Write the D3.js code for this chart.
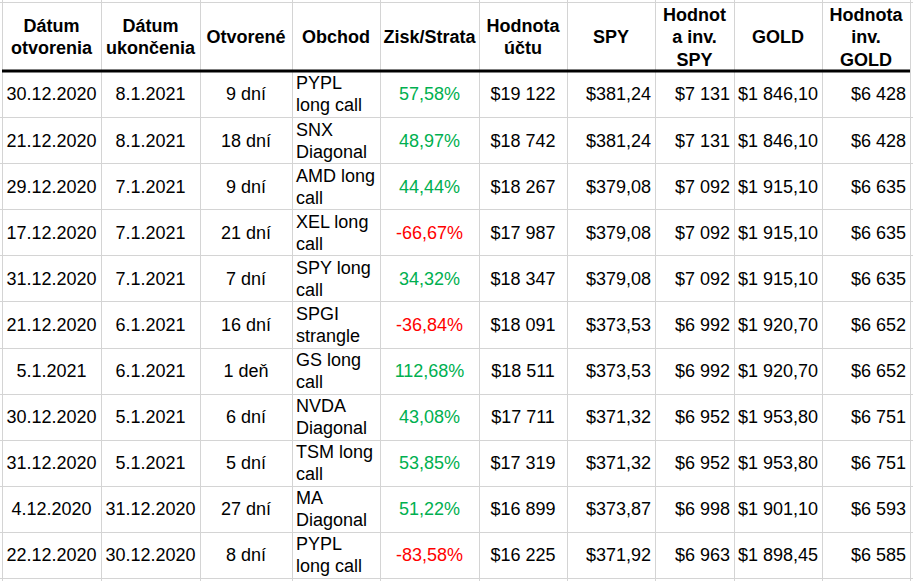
<!DOCTYPE html>
<html lang="sk">
<head>
<meta charset="UTF-8">
<title>Obchody</title>
<script src="https://d3js.org/d3.v7.min.js"></script>
<style>
  body { margin: 0; background: #fff; }
  svg { display: block; font-family: 'Liberation Sans', Arial, sans-serif; }
</style>
</head>
<body>
<div id="chart"></div>
<script>
// header labels (already split into lines as in the sheet)
const headers = [
  ["Dátum", "otvorenia"], ["Dátum", "ukončenia"], ["Otvorené"], ["Obchod"],
  ["Zisk/Strata"], ["Hodnota", "účtu"], ["SPY"], ["Hodnot", "a inv.", "SPY"],
  ["GOLD"], ["Hodnota", "inv.", "GOLD"]
];

const openDates = ["30.12.2020", "21.12.2020", "29.12.2020", "17.12.2020", "31.12.2020",
  "21.12.2020", "5.1.2021", "30.12.2020", "31.12.2020", "4.12.2020", "22.12.2020"];
const closeDates = ["8.1.2021", "8.1.2021", "7.1.2021", "7.1.2021", "7.1.2021",
  "6.1.2021", "6.1.2021", "5.1.2021", "5.1.2021", "31.12.2020", "30.12.2020"];
const days = [9, 18, 9, 21, 7, 16, 1, 6, 5, 27, 8];
const trades = ["PYPL long call", "SNX Diagonal", "AMD long call", "XEL long call",
  "SPY long call", "SPGI strangle", "GS long call", "NVDA Diagonal", "TSM long call",
  "MA Diagonal", "PYPL long call"];
const profit = [57.58, 48.97, 44.44, -66.67, 34.32, -36.84, 112.68, 43.08, 53.85, 51.22, -83.58];
const account = [19122, 18742, 18267, 17987, 18347, 18091, 18511, 17711, 17319, 16899, 16225];
const spy = [381.24, 381.24, 379.08, 379.08, 379.08, 373.53, 373.53, 371.32, 371.32, 373.87, 371.92];
const spyInv = [7131, 7131, 7092, 7092, 7092, 6992, 6992, 6952, 6952, 6998, 6963];
const gold = [1846.10, 1846.10, 1915.10, 1915.10, 1915.10, 1920.70, 1920.70, 1953.80, 1953.80, 1901.10, 1898.45];
const goldInv = [6428, 6428, 6635, 6635, 6635, 6652, 6652, 6751, 6751, 6593, 6585];

const W = 913, H = 581;
const colEdges = [2, 101, 200, 292, 380, 479, 567, 655, 734, 822, 910];
const align = ["middle", "middle", "middle", "start", "middle", "middle", "end", "end", "end", "end"];
const headTop = 2, headBottom = 71, tableBottom = 578;
const pad = 4;

const loc = d3.formatLocale({decimal: ",", thousands: " ", grouping: [3], currency: ["$", ""], minus: "-"});
const fInt = loc.format("$,.0f");
const fDec = loc.format("$,.2f");
const fPct = loc.format(".2f");

const n = openDates.length;
const rows = d3.range(n).map(i => [
  openDates[i], closeDates[i], days[i] + (days[i] === 1 ? " deň" : " dní"), trades[i],
  fPct(profit[i]) + "%", fInt(account[i]), fDec(spy[i]), fInt(spyInv[i]),
  fDec(gold[i]), fInt(goldInv[i])
]);

const y = d3.scaleBand().domain(d3.range(n)).range([headBottom, tableBottom]);

const svg = d3.select("#chart").append("svg").attr("width", W).attr("height", H);

// grid
const grid = svg.append("g").attr("stroke", "#d4d4d4").attr("stroke-width", 1).attr("shape-rendering", "crispEdges");
grid.selectAll(".v").data(colEdges).join("line")
  .attr("x1", d => d + 0.5).attr("x2", d => d + 0.5).attr("y1", 0).attr("y2", H);
grid.selectAll(".h").data([headTop].concat(d3.range(1, n + 1).map(i => i < n ? y(i) : tableBottom))).join("line")
  .attr("x1", 0).attr("x2", W).attr("y1", d => Math.round(d) + 0.5).attr("y2", d => Math.round(d) + 0.5);

svg.append("line")
  .attr("x1", colEdges[0]).attr("x2", colEdges[colEdges.length - 1])
  .attr("y1", headBottom).attr("y2", headBottom)
  .attr("stroke", "#000").attr("stroke-width", 3);

function xFor(c) {
  const a = align[c];
  if (a === "start") return colEdges[c] + pad;
  if (a === "end") return colEdges[c + 1] - pad;
  return (colEdges[c] + colEdges[c + 1]) / 2;
}

// header
const headMid = (headTop + headBottom) / 2;
const hLine = 22.5;
headers.forEach((lines, c) => {
  const t = svg.append("text")
    .attr("text-anchor", "middle")
    .attr("font-size", 18).attr("font-weight", "bold").attr("fill", "#000");
  lines.forEach((l, k) => {
    t.append("tspan")
      .attr("x", (colEdges[c] + colEdges[c + 1]) / 2)
      .attr("y", headMid + (k - (lines.length - 1) / 2) * hLine + 6.5)
      .text(l);
  });
});

// wrap words into lines fitting the column
function wrap(str, maxW, measure) {
  const words = str.split(" ");
  const out = [];
  let cur = words[0];
  for (let i = 1; i < words.length; i++) {
    const test = cur + " " + words[i];
    if (measure(test) <= maxW) cur = test;
    else { out.push(cur); cur = words[i]; }
  }
  out.push(cur);
  return out;
}

const probe = svg.append("text").attr("font-size", 18).attr("visibility", "hidden");
const measure = s => probe.text(s).node().getComputedTextLength();

const body = svg.append("g").attr("font-size", 18);
rows.forEach((r, i) => {
  const mid = y(i) + y.bandwidth() / 2;
  r.forEach((val, c) => {
    let fill = "#000";
    if (c === 4) fill = profit[i] < 0 ? "#ff0000" : "#00b050";
    const t = body.append("text").attr("text-anchor", align[c]).attr("fill", fill);
    const lines = c === 3 ? wrap(val, 82, measure) : [val];
    lines.forEach((l, k) => {
      t.append("tspan")
        .attr("x", xFor(c))
        .attr("y", mid + (k - (lines.length - 1) / 2) * 22 + 6.4)
        .text(l);
    });
  });
});
probe.remove();
</script>
</body>
</html>
